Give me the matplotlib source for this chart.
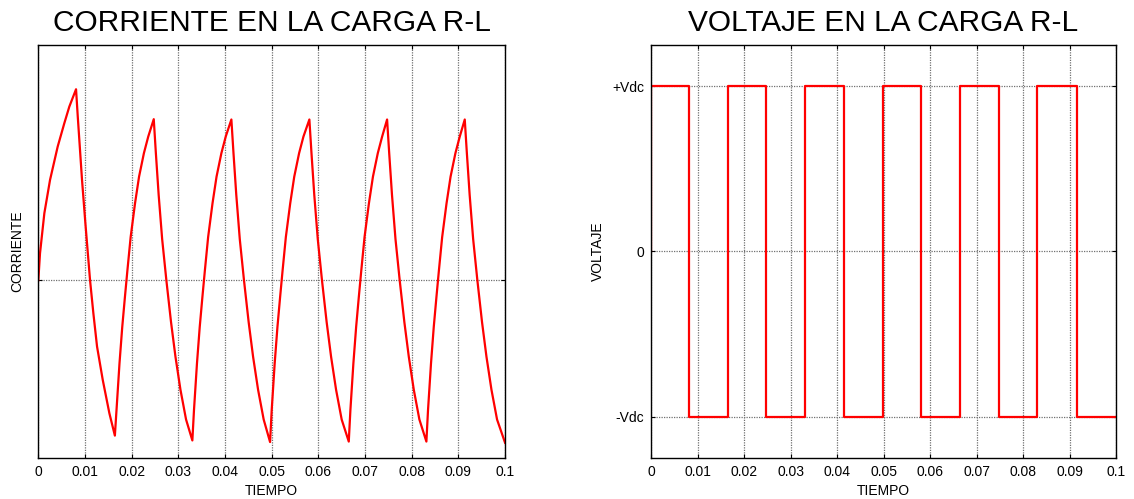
import numpy as np
import matplotlib.pyplot as plt

plt.rcParams['font.family'] = ['Liberation Sans', 'DejaVu Sans']

# Corriente en la carga R-L (valores normalizados), un renglon por semiciclo
t_corriente = [
    0.0, 0.00036, 0.00129, 0.00251, 0.00415, 0.00557, 0.00664, 0.00808,
    0.00844, 0.00936, 0.01008, 0.01108, 0.01179, 0.01258, 0.01380, 0.01522, 0.01640,
    0.01675, 0.01739, 0.01798, 0.01855, 0.01908, 0.01978, 0.02072, 0.02158, 0.02262, 0.02355, 0.02473,
    0.02518, 0.02578, 0.02653, 0.02743, 0.02843, 0.02938, 0.03045, 0.03165, 0.03300,
    0.03335, 0.03399, 0.03458, 0.03515, 0.03568, 0.03638, 0.03732, 0.03818, 0.03922, 0.04015, 0.04136,
    0.04181, 0.04241, 0.04316, 0.04406, 0.04506, 0.04601, 0.04708, 0.04828, 0.04965,
    0.05000, 0.05064, 0.05123, 0.05180, 0.05233, 0.05303, 0.05397, 0.05483, 0.05587, 0.05680, 0.05807,
    0.05852, 0.05912, 0.05987, 0.06077, 0.06177, 0.06272, 0.06379, 0.06499, 0.06651,
    0.06686, 0.06750, 0.06809, 0.06866, 0.06919, 0.06989, 0.07083, 0.07169, 0.07273, 0.07366, 0.07472,
    0.07517, 0.07577, 0.07652, 0.07742, 0.07842, 0.07937, 0.08044, 0.08164, 0.08314,
    0.08349, 0.08413, 0.08472, 0.08529, 0.08582, 0.08652, 0.08746, 0.08832, 0.08936, 0.09029, 0.09136,
    0.09181, 0.09241, 0.09316, 0.09406, 0.09506, 0.09601, 0.09708, 0.09828, 0.1,
]
i_corriente = [
    0.0, 0.167, 0.416, 0.623, 0.830, 0.975, 1.078, 1.186,
    1.020, 0.623, 0.354, 0.0, -0.205, -0.412, -0.619, -0.826, -0.965,
    -0.806, -0.516, -0.290, -0.105, 0.060, 0.268, 0.478, 0.643, 0.789, 0.892, 1.000,
    0.790, 0.530, 0.255, 0.0, -0.260, -0.475, -0.680, -0.865, -0.995,
    -0.806, -0.516, -0.290, -0.105, 0.060, 0.268, 0.478, 0.643, 0.789, 0.892, 0.998,
    0.790, 0.530, 0.255, 0.0, -0.260, -0.475, -0.680, -0.865, -1.005,
    -0.806, -0.516, -0.290, -0.105, 0.060, 0.268, 0.478, 0.643, 0.789, 0.892, 0.998,
    0.790, 0.530, 0.255, 0.0, -0.260, -0.475, -0.680, -0.865, -1.002,
    -0.806, -0.516, -0.290, -0.105, 0.060, 0.268, 0.478, 0.643, 0.789, 0.892, 0.998,
    0.790, 0.530, 0.255, 0.0, -0.260, -0.475, -0.680, -0.865, -1.002,
    -0.806, -0.516, -0.290, -0.105, 0.060, 0.268, 0.478, 0.643, 0.789, 0.892, 0.998,
    0.790, 0.530, 0.255, 0.0, -0.260, -0.475, -0.680, -0.865, -1.010,
]

# Voltaje en la carga: instantes de conmutacion y niveles (en unidades de Vdc)
t_voltaje = [0.0, 0.0, 0.0082, 0.0165, 0.0248, 0.0332, 0.0415, 0.0498,
             0.0581, 0.0665, 0.0748, 0.0831, 0.0915, 0.1]
v_voltaje = [0, 1, -1, 1, -1, 1, -1, 1, -1, 1, -1, 1, -1, -1]

xticks = np.round(np.arange(0, 0.101, 0.01), 2)
xtick_labels = ['0', '0.01', '0.02', '0.03', '0.04', '0.05',
                '0.06', '0.07', '0.08', '0.09', '0.1']
vticks = [-1, 0, 1]
vtick_labels = ['-Vdc', '0', '+Vdc']

fig = plt.figure(figsize=(11.34, 4.99), dpi=100)
ax1 = fig.add_axes([0.0338, 0.0822, 0.4116, 0.8277])
ax2 = fig.add_axes([0.5741, 0.0822, 0.4101, 0.8277])

ax1.plot(t_corriente, i_corriente, color='red', lw=1.6)
ax1.set_ylim(-1.104, 1.461)
ax1.set_yticks([0])
ax1.set_yticklabels([''])
ax1.set_title('CORRIENTE EN LA CARGA R-L', fontsize=21.5, pad=10)
ax1.set_ylabel('CORRIENTE', fontsize=10, labelpad=5)

ax2.step(t_voltaje, v_voltaje, where='post', color='red', lw=1.6)
ax2.set_ylim(-1.25, 1.25)
ax2.set_yticks(vticks)
ax2.set_yticklabels(vtick_labels)
ax2.set_title('VOLTAJE EN LA CARGA R-L', fontsize=21.5, pad=10)
ax2.set_ylabel('VOLTAJE', fontsize=10, labelpad=5)

for ax in (ax1, ax2):
    ax.set_xlim(0, 0.1)
    ax.set_xticks(xticks)
    ax.set_xticklabels(xtick_labels)
    ax.set_xlabel('TIEMPO', fontsize=10, labelpad=3.5)
    ax.tick_params(direction='in', length=3, width=0.8, labelsize=10,
                   top=True, right=True, pad=5)
    ax.grid(True, linestyle=(0, (1, 1)), color='#707070', linewidth=0.9)
    for s in ax.spines.values():
        s.set_linewidth(1.0)
        s.set_color('black')

fig.savefig('out.png', dpi=100)
